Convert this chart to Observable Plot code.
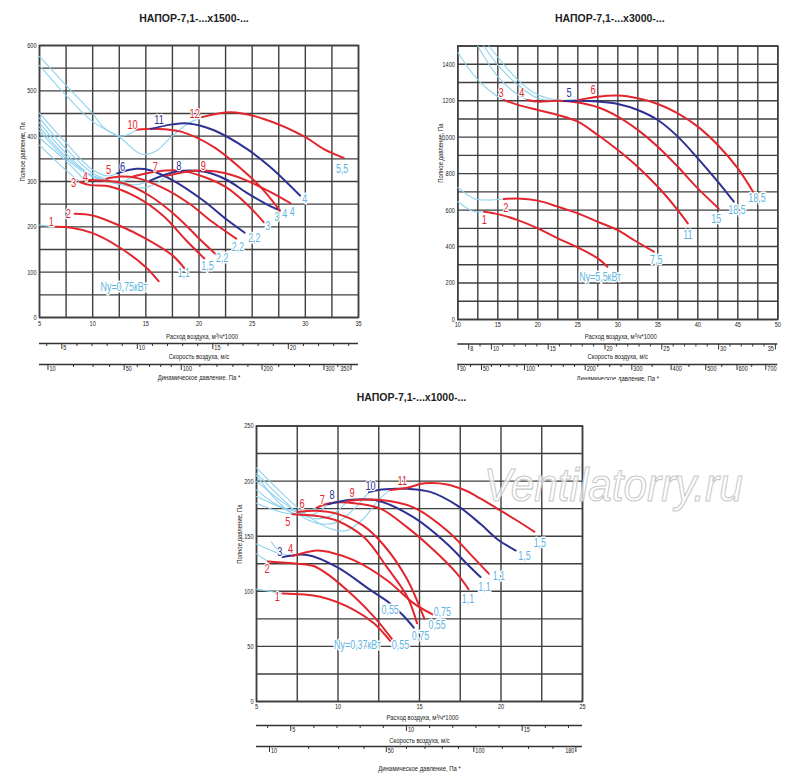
<!DOCTYPE html>
<html><head><meta charset="utf-8">
<script src="https://cdn.jsdelivr.net/npm/d3@7"></script>
<script src="https://cdn.jsdelivr.net/npm/@observablehq/plot@0.6"></script>
<style>
body{margin:0;background:#fff;width:800px;height:782px;position:relative;overflow:hidden}
.c{position:absolute}
#wm{position:absolute;left:484px;top:458px;font:italic 46px 'Liberation Sans',sans-serif;color:rgba(255,255,255,0.7);-webkit-text-stroke:1.1px #c9c9c9;white-space:nowrap;transform:scaleX(0.92);transform-origin:0 0}
</style>
</head><body>
<div id="c1" class="c" style="left:0;top:0"></div>
<div id="c2" class="c" style="left:400px;top:0"></div>
<div id="c3" class="c" style="left:200px;top:380px"></div>
<div id="wm">Ventilatorry.ru</div>
<script>
// ---------- Chart 1: x1500 ----------
const h1500Title = "НАПОР-7,1-...х1500-...";
const h1500Ids = ["1","2","3","4","5","6","7","8","9","10","11","12"];
const h1500Kinds = ["r","r","r","r","r","b","r","b","r","r","b","r"];
const h1500Curves = [
  [[6.5,200],[8,198],[10,186],[12.5,155],[15,111],[16.2,80]],
  [[8.3,229],[10,225],[12.5,203],[15,174],[17.5,137],[18.65,108]],
  [[8.8,299],[9.75,292],[11.6,289],[14.1,266],[16.6,225],[18.8,170],[20.5,130]],
  [[9.2,304],[11,302],[12.9,296],[15.4,268],[17.9,223],[20.1,172],[21.6,139]],
  [[11.3,306],[12.6,311],[14.1,308],[16.6,286],[19.1,251],[21.3,210],[23.5,174]],
  [[12.3,318],[14.1,328],[15.4,325],[17.5,303],[20.4,258],[22.6,216],[24.3,187]],
  [[13.8,311],[16,322],[18.2,324],[20.5,310],[22.5,288],[24.5,250],[26.1,210]],
  [[15.4,302],[17.9,322],[20.4,322],[22.5,305],[24.5,275],[26.2,252],[27.6,236]],
  [[16.9,312],[19,322],[20.4,324],[22.5,318],[24.5,302],[26.7,277],[28.6,252]],
  [[14.1,414],[16,416],[18.3,410],[21.4,376],[24.5,317],[26.1,280],[27.6,236]],
  [[15.5,416],[17.5,426],[19,428],[21.4,413],[24.5,372],[26.7,332],[29.5,269]],
  [[20.3,442],[23,453],[26.1,438],[30,398],[31.7,372],[33.6,352]]
];
const h1500Stall = [
  [[5,204],[6.5,200]],
  [[5,576],[7.5,512],[10,450],[11,420],[12.6,400],[13.4,404],[14.1,414]],
  [[5,556],[7.5,490],[10,432],[12.5,398],[14.6,360],[16,368],[17.25,395],[18.8,425],[20.3,442]],
  [[5,380],[7,335],[8.8,299]],
  [[5,396],[7.5,345],[9.2,304]],
  [[5,440],[7.5,372],[10,318],[11.3,306]],
  [[5,451],[7.5,385],[10,326],[11.5,312],[12.3,318]],
  [[5,430],[7.5,362],[10,312],[12.5,298],[13.8,311]],
  [[5,420],[7.5,355],[10,313],[12.5,297],[14.2,293],[15.4,302]],
  [[5,412],[7.5,350],[10,310],[12.5,294],[14.75,286],[16,296],[16.9,312]]
];
const h1500NumPos = [[6.1,211],[7.7,229],[8.2,297],[9.3,311],[11.5,326],[12.8,332],[15.9,333],[18.1,335],[20.4,335],[13.75,424],[16.25,436],[19.6,448]];
const h1500Power = ["Ny=0,75кВт","1,1","1,5","2,2","2,2","2,2","3","3","4","4","4","5,5"];
const h1500PowerPos = [[12.95,67],[18.57,97],[20.8,113],[22.18,130],[23.65,155],[25.2,176],[26.47,202],[27.3,222],[28.07,229],[28.76,233],[29.95,262],[33.46,328]];
const h1500XTicks = [5,10,15,20,25,30,35];
const h1500YTicks = [0,100,200,300,400,500,600];
const h1500VLabels = [5,10,15,20];
const h1500PdTicks = [10,20,30,40,50,60,70,80,90,100,120,140,160,180,200,225,250,275,300,325,350];
const h1500PdLabels = [10,50,100,200,300,350];

// ---------- Chart 2: x3000 ----------
const h3000Title = "НАПОР-7,1-...х3000-...";
const h3000Ids = ["1","2","3","4","5","6"];
const h3000Kinds = ["r","r","r","r","b","r"];
const h3000Curves = [
  [[13.3,591],[15,578],[17.5,545],[20,500],[22.5,445],[25,395],[27.5,335],[28.7,289]],
  [[15.75,661],[17.5,664],[20,652],[22.5,619],[25,582],[27.5,536],[30,490],[32,436],[34.5,372]],
  [[15.75,1204],[17.5,1177],[20,1149],[22.5,1122],[25,1085],[27.5,1012],[30,930],[32,857],[35,728],[37.5,600],[38.75,527]],
  [[18.7,1204],[20,1195],[22.5,1200],[25,1190],[27.5,1164],[30,1113],[32.5,1040],[35,948],[37.5,838],[40,719],[42.6,609]],
  [[23.25,1199],[25,1200],[27.5,1195],[30,1182],[32.5,1149],[35,1094],[37.5,1003],[40,884],[42.5,756],[44.5,646]],
  [[25.1,1204],[27.5,1222],[30,1228],[32.5,1213],[35,1182],[37.5,1131],[40,1058],[42.5,957],[45,829],[46.9,701]]
];
const h3000Stall = [
  [[10,646],[12,592],[13.3,591]],
  [[10,725],[12,664],[13.7,655],[15.75,661]],
  [[10,1464],[12.5,1314],[15,1222],[15.75,1204]],
  [[12.5,1500],[15,1332],[17.5,1232],[18.7,1204]],
  [[13.25,1500],[15,1396],[17.5,1287],[20,1213],[22.4,1200],[23.25,1199]],
  [[13.9,1500],[17.5,1314],[20,1232],[22.5,1204],[25.1,1204]]
];
const h3000NumPos = [[13.3,545],[16,609],[15.4,1245],[18.0,1245],[23.9,1245],[26.9,1259]];
const h3000Power = ["Ny=5,5кВт","7,5","11","15","18,5","18,5"];
const h3000PowerPos = [[27.8,234],[34.8,326],[38.75,463],[42.3,549],[44.9,600],[47.4,664]];
const h3000XTicks = [10,15,20,25,30,35,40,45,50];
const h3000YTicks = [0,200,400,600,800,1000,1200,1400];
const h3000VLabels = [8,10,15,20,25,30,35];
const h3000PdTicks = [30,40,50,60,70,80,90,100,120,140,160,180,200,225,250,275,300,350,400,450,500,550,600,650,700];
const h3000PdLabels = [30,50,100,200,300,400,500,600,700];

// ---------- Chart 3: x1000 ----------
const h1000Title = "НАПОР-7,1-...х1000-...";
const h1000Ids = ["1","2","3","4","5","6","7","8","9","10","11"];
const h1000Kinds = ["r","r","b","r","r","r","r","b","r","b","r"];
const h1000Curves = [
  [[6.6,98],[8.9,95],[11,83],[12.2,71],[13.2,55]],
  [[5.7,127],[7.5,125],[8.5,123],[9.5,114],[11,95],[12.2,77],[13.4,55]],
  [[6.6,131],[8.1,133],[9.95,122],[12,101],[13.2,89],[14,78],[14.65,67]],
  [[7.2,132],[8.7,137],[9.5,135.5],[11,128],[13,110],[14.65,89],[15.8,79]],
  [[7.2,170],[8.9,168],[9.95,164],[11.6,149],[13,122],[14.25,95],[14.85,71]],
  [[7.5,172],[8.7,173],[10,170],[11.5,160],[12.8,142],[14.2,112],[15.3,75]],
  [[8.7,176],[9.5,180],[11,180],[12.6,175],[14.25,158],[15.9,137],[17.3,116],[18.0,102]],
  [[9.4,179],[10.8,183],[12.5,182],[14.65,167],[16.7,143],[17.9,125],[18.74,113]],
  [[10.6,182],[12.5,183],[14.65,176],[16.7,155],[18.1,134],[19.25,116]],
  [[11.9,190],[12.5,192],[13.6,193],[14.25,193],[15.7,190],[17.3,178],[18.75,161],[19.8,147],[20.9,137]],
  [[13.2,192],[14.25,194],[15.3,198],[16.7,197],[17.9,191],[18.75,184],[20,173],[21,164],[22.05,154]]
];
const h1000Stall = [
  [[5,102],[6.6,98]],
  [[5,134],[5.7,127]],
  [[5.9,145],[6.6,131]],
  [[5,143],[6.47,134],[7.2,132]],
  [[5,212],[6.5,190],[8,170],[9.5,157],[10.5,155],[11.5,165],[12.5,183],[13.2,192]],
  [[5,207],[6.5,185],[8,166],[9,161],[10,163],[11,175],[11.9,190]],
  [[5,200],[6.5,182],[7.5,172],[8.5,166],[9.5,168],[10.6,182]],
  [[5,186],[6.5,176],[7.5,170],[8.5,170],[9.4,179]],
  [[5,180],[6.5,172],[7.5,170],[8.7,176]],
  [[5,192],[6.3,178],[7.5,172]],
  [[5,205],[6.2,183],[7.2,170]]
];
const h1000NumPos = [[6.27,95],[5.65,120],[6.43,136],[7.09,138],[6.92,163],[7.8,179],[9.03,183],[9.64,187],[10.87,189],[12.0,196],[13.94,200]];
const h1000Power = ["Ny=0,37кВт","0,55","0,55","0,75","0,55","0,75","1,1","1,1","1,1","1,5","1,5"];
const h1000PowerPos = [[11.2,51],[13.83,51],[13.2,83],[15.06,59],[16.08,69],[16.4,81],[17.97,93],[18.99,104],[19.87,114],[21.44,132],[22.38,144]];
const h1000XTicks = [5,10,15,20,25];
const h1000YTicks = [0,50,100,150,200,250];
const h1000VLabels = [5,10,15];
const h1000PdTicks = [10,20,30,40,50,60,70,80,90,100,120,140,160,180];
const h1000PdLabels = [10,50,100,180];

// ---------- common ----------
const RED = "#e2262e", BLUE = "#2e3192", LBLUE = "#8dd2ee", LTEXT = "#5db5df", GRID = "#3f3f3f", INK = "#222";
const K = 1.42;          // flow (m³/h·1000) corresponding to 1 m/s
const RHO2 = 0.6;        // dynamic pressure = 0.6·v²
const FONT = "'Liberation Sans',Arial,sans-serif";
const NARROW = 0.74;     // horizontal condensing of the narrow label face
const AX_FLOW = "Расход воздуха, м³/ч*1000";
const AX_P = "Полное давление, Па";
const AX_V = "Скорость воздуха, м/с";
const AX_PD = "Динамическое давление, Па *";

const tickSym = {draw(ctx, size) { const r = Math.sqrt(size / Math.PI); ctx.moveTo(0, 0); ctx.lineTo(0, r); }};

function chart(o) {
  const rows = o.curves.flatMap((pts, i) => pts.map(([q, p]) => ({q, p, i, kind: o.kinds[i]})));
  const stall = o.stall.flatMap((pts, i) => pts.map(([q, p]) => ({q, p, i})));
  const nums = o.ids.map((t, i) => ({t, q: o.numPos[i][0], p: o.numPos[i][1], kind: o.kinds[i]}));
  const pw = o.power.map((t, i) => ({t, q: o.powerPos[i][0], p: o.powerPos[i][1]}));
  const [x0, x1] = o.xDomain;
  const span = x1 - x0;
  const vX = v => v * K;
  const pdX = d => K * Math.sqrt(d / RHO2);
  const vTicks = d3.range(Math.ceil(x0 / K), Math.floor(x1 / K) + 1);
  const vMinor = vTicks.filter(v => !o.vLabels.includes(v));
  const pdTicks = o.pdTicks.filter(d => pdX(d) >= x0 - 1e-6 && pdX(d) <= x1 + 0.2);
  const pdMinor = pdTicks.filter(d => !o.pdLabels.includes(d));
  const nearEnd = x => x > x1 - 0.025 * span;
  const D = o.dy;
  const dotTicks = (data, x, dy, r) => Plot.dot(data, {x, frameAnchor: "bottom", dy, symbol: tickSym, r, fill: "none", stroke: "#333", strokeWidth: 1});
  const scaleLabels = (data, x, dy) => [
    Plot.text(data.filter(d => !nearEnd(x(d))), {x, text: d => String(d), frameAnchor: "bottom", dy, dx: 1.5, textAnchor: "start", fontSize: 7.5, fill: INK}),
    Plot.text(data.filter(d => nearEnd(x(d))), {x, text: d => String(d), frameAnchor: "bottom", dy, dx: -1.5, textAnchor: "end", fontSize: 7.5, fill: INK})
  ];
  const svg = Plot.plot({
    width: o.width, height: o.height,
    marginLeft: o.m[0], marginRight: o.m[1], marginTop: o.m[2], marginBottom: o.m[3],
    x: {domain: o.xDomain, axis: null},
    y: {domain: o.yDomain, axis: null},
    style: {fontFamily: FONT, background: "white", overflow: "visible"},
    marks: [
      Plot.ruleX(d3.range(x0, x1 + 1e-9, 2.5), {stroke: GRID, strokeWidth: 1.4}),
      Plot.ruleY(d3.range(o.yDomain[0], o.yDomain[1] + 1e-9, o.yStep), {stroke: GRID, strokeWidth: 1.4}),
      Plot.frame({stroke: GRID, strokeWidth: 1.6}),
      Plot.line(stall, {x: "q", y: "p", z: "i", stroke: LBLUE, strokeWidth: 1.1, curve: "catmull-rom"}),
      Plot.line(rows, {x: "q", y: "p", z: "i", stroke: d => d.kind === "b" ? BLUE : RED, strokeWidth: 2, curve: "catmull-rom"}),
      Plot.text(nums, {x: "q", y: "p", text: "t", fill: d => d.kind === "b" ? BLUE : RED, stroke: "white", strokeWidth: 2.5, paintOrder: "stroke", fontSize: 12.5}),
      Plot.text(pw, {x: "q", y: "p", text: "t", fill: LTEXT, stroke: "white", strokeWidth: 3, paintOrder: "stroke", fontSize: 12}),
      // main axes labels
      Plot.text(o.yTicks, {y: d => d, text: d => String(d), frameAnchor: "left", dx: -3, textAnchor: "end", fontSize: 7.5, fill: INK}),
      Plot.text(o.xTicks, {x: d => d, text: d => String(d), frameAnchor: "bottom", dy: D.xt, fontSize: 7.5, fill: INK}),
      Plot.text([AX_P], {frameAnchor: "left", rotate: -90, dx: -17, fontSize: 8, fill: INK}),
      Plot.text([AX_FLOW], {frameAnchor: "bottom", dy: D.ft, dx: 3, fontSize: 8, fill: INK}),
      // velocity scale
      Plot.ruleY([o.yDomain[0]], {dy: D.vl, stroke: "#333", strokeWidth: 1.3}),
      dotTicks(vMinor, vX, D.vl, 2.5),
      dotTicks(o.vLabels, vX, D.vl, 5.5),
      ...scaleLabels(o.vLabels.filter(v => vX(v) >= x0 && vX(v) <= x1), vX, D.vl + 6.5),
      Plot.text([AX_V], {frameAnchor: "bottom", dy: D.vt, fontSize: 8, fill: INK}),
      // dynamic pressure scale
      Plot.ruleY([o.yDomain[0]], {dy: D.pl, stroke: "#333", strokeWidth: 1.3}),
      dotTicks(pdMinor, pdX, D.pl, 2.5),
      dotTicks(o.pdLabels.filter(d => pdX(d) <= x1 + 0.2), pdX, D.pl, 5.5),
      ...scaleLabels(o.pdLabels.filter(d => pdX(d) <= x1 + 0.2), pdX, D.pl + 6.5),
      Plot.text([AX_PD], {frameAnchor: "bottom", dy: D.pt, fontSize: 8, fill: INK}),
      // title
      Plot.text([o.title], {frameAnchor: "top", dy: o.titleDy, dx: o.titleDx, fontSize: 10.5, fontWeight: "bold", fill: INK})
    ]
  });
  // condensed (narrow) face for all labels except the bold title
  svg.querySelectorAll("text").forEach(t => {
    const g = t.closest("g");
    if (g && g.getAttribute("font-weight") === "bold") return;
    const tr = t.getAttribute("transform");
    if (tr) t.setAttribute("transform", tr + ` scale(${NARROW},1)`);
  });
  return svg;
}

document.getElementById("c1").append(chart({
  title: h1500Title, ids: h1500Ids, kinds: h1500Kinds, curves: h1500Curves, stall: h1500Stall,
  numPos: h1500NumPos, power: h1500Power, powerPos: h1500PowerPos,
  xTicks: h1500XTicks, yTicks: h1500YTicks, vLabels: h1500VLabels, pdTicks: h1500PdTicks, pdLabels: h1500PdLabels,
  xDomain: [5, 35], yDomain: [0, 600], yStep: 50,
  width: 400, height: 390, m: [39, 42, 45, 73],
  dy: {xt: 8, ft: 21, vl: 26, vt: 41, pl: 47, pt: 62}, titleDy: -31, titleDx: -5
}));
document.getElementById("c2").append(chart({
  title: h3000Title, ids: h3000Ids, kinds: h3000Kinds, curves: h3000Curves, stall: h3000Stall,
  numPos: h3000NumPos, power: h3000Power, powerPos: h3000PowerPos,
  xTicks: h3000XTicks, yTicks: h3000YTicks, vLabels: h3000VLabels, pdTicks: h3000PdTicks, pdLabels: h3000PdLabels,
  xDomain: [10, 50], yDomain: [0, 1500], yStep: 100,
  width: 400, height: 390, m: [57.3, 22.7, 45.5, 71],
  dy: {xt: 7, ft: 19.5, vl: 24.5, vt: 39, pl: 45, pt: 61}, titleDy: -31, titleDx: -8
}));
document.getElementById("c3").append(chart({
  title: h1000Title, ids: h1000Ids, kinds: h1000Kinds, curves: h1000Curves, stall: h1000Stall,
  numPos: h1000NumPos, power: h1000Power, powerPos: h1000PowerPos,
  xTicks: h1000XTicks, yTicks: h1000YTicks, vLabels: h1000VLabels, pdTicks: h1000PdTicks, pdLabels: h1000PdLabels,
  xDomain: [5, 25], yDomain: [0, 250], yStep: 25,
  width: 420, height: 402, m: [56, 38, 45.5, 81],
  dy: {xt: 7, ft: 18, vl: 24, vt: 41, pl: 45, pt: 69}, titleDy: -32.5, titleDx: -8
}));
</script>
</body></html>
